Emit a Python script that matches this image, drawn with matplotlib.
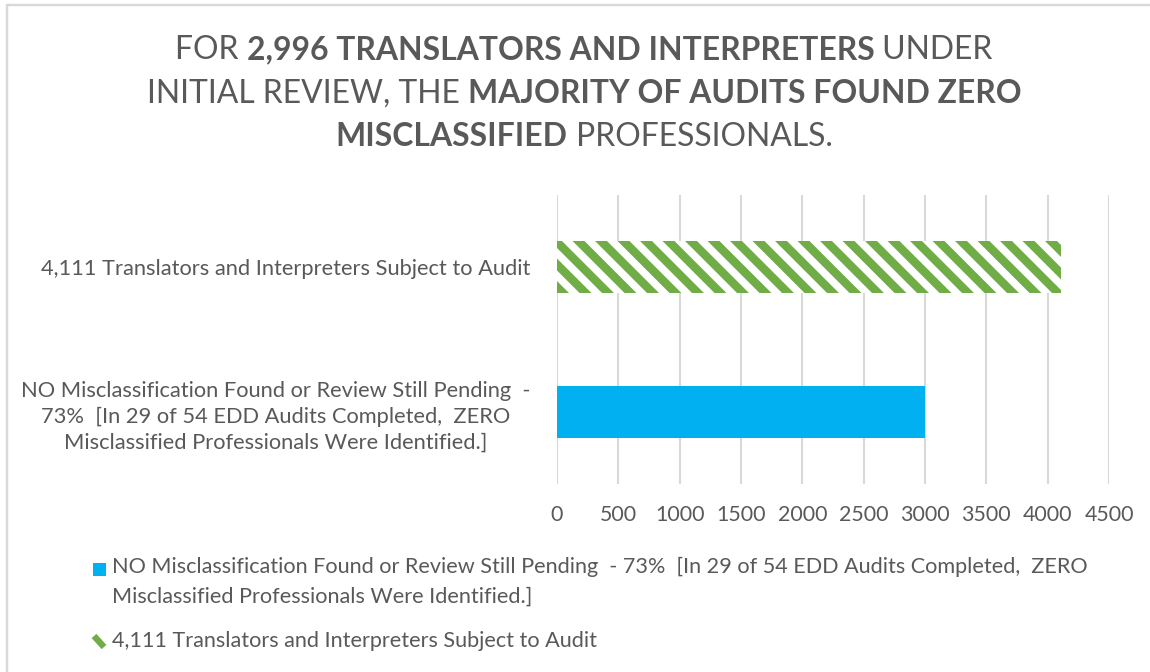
import matplotlib

matplotlib.use("Agg")
import matplotlib.pyplot as plt
from matplotlib.lines import Line2D
from matplotlib.patches import Rectangle

# data
categories = [
    "NO Misclassification Found or Review Still Pending  -\n73%  [In 29 of 54 EDD Audits Completed,  ZERO\nMisclassified Professionals Were Identified.]",
    "4,111 Translators and Interpreters Subject to Audit",
]
values = [2996, 4111]
legend_lines = [
    ["NO Misclassification Found or Review Still Pending  - 73%  [In 29 of 54 EDD Audits Completed,  ZERO",
     "Misclassified Professionals Were Identified.]"],
    ["4,111 Translators and Interpreters Subject to Audit"],
]
x_ticks = [0, 500, 1000, 1500, 2000, 2500, 3000, 3500, 4000, 4500]
title_lines = [
    [("FOR ", "normal"), ("2,996 TRANSLATORS AND INTERPRETERS", "bold"), (" UNDER", "normal")],
    [("INITIAL REVIEW, THE ", "normal"), ("MAJORITY OF AUDITS FOUND ZERO", "bold")],
    [("MISCLASSIFIED", "bold"), (" PROFESSIONALS.", "normal")],
]

DPI = 135
W, H = 1150, 672
TEXT = "#595959"
BLUE = "#00B0F0"
GREEN = "#70AD47"
GRID = "#D9D9D9"

plt.rcParams["font.family"] = ["Lato", "DejaVu Sans"]
plt.rcParams["hatch.linewidth"] = 4.5
plt.rcParams["hatch.color"] = GREEN

fig = plt.figure(figsize=(W / DPI, H / DPI), dpi=DPI)
ax = fig.add_axes([557 / W, 1 - 484 / H, 552 / W, 289 / H])

ax.barh(0, values[0], height=0.36, color=BLUE, zorder=3)
ax.barh(1, values[1], height=0.36, color="white", edgecolor=GREEN, linewidth=0,
        hatch="\\\\", zorder=3)

ax.set_xlim(0, 4500)
ax.set_ylim(-0.5, 1.5)
ax.set_xticks(x_ticks)
ax.set_xticklabels([str(t) for t in x_ticks])
ax.set_yticks([0, 1])
ax.set_yticklabels(categories, multialignment="center", linespacing=1.36)
ax.tick_params(axis="x", length=0, pad=11, labelsize=11.4, labelcolor=TEXT)
ax.tick_params(axis="y", length=0, pad=14, labelsize=11.7, labelcolor=TEXT)
ax.grid(axis="x", color=GRID, linewidth=1.1, zorder=0)
for s in ax.spines.values():
    s.set_visible(False)

# chart border (only top/left visible in the crop)
fig.add_artist(Rectangle((7 / W, -0.05), 1.2, 1 - 5 / H + 0.05, transform=fig.transFigure,
                         fill=False, edgecolor=GRID, linewidth=1.3))

# title with mixed bold segments
renderer = fig.canvas.get_renderer()
cx = 584 / W
for i, line in enumerate(title_lines):
    y = 1 - (50 + i * 43.5) / H
    pieces = []
    for txt, w in line:
        t = fig.text(0, y, txt, fontsize=17, fontweight=w, color=TEXT, va="center", ha="left")
        pieces.append(t)
    widths = [p.get_window_extent(renderer).width / fig.bbox.width for p in pieces]
    x = cx - sum(widths) / 2
    for p, w in zip(pieces, widths):
        p.set_x(x)
        x += w

# legend, laid out like the Excel one (key next to the first text line)
fig.add_artist(Rectangle((93 / W, 1 - 576 / H), 13 / W, 13 / H, transform=fig.transFigure,
                         facecolor=BLUE, edgecolor="none"))
fig.add_artist(Line2D([94 / W, 104 / W], [1 - 636 / H, 1 - 647 / H], transform=fig.transFigure,
                      color=GREEN, linewidth=3.4, solid_capstyle="butt"))
for y_px, txt in zip([567, 597], legend_lines[0]):
    fig.text(112 / W, 1 - y_px / H, txt, fontsize=11.5, color=TEXT, va="center", ha="left")
fig.text(112 / W, 1 - 641 / H, legend_lines[1][0], fontsize=11.5, color=TEXT, va="center", ha="left")

fig.savefig("out.png", dpi=DPI, facecolor="white")
